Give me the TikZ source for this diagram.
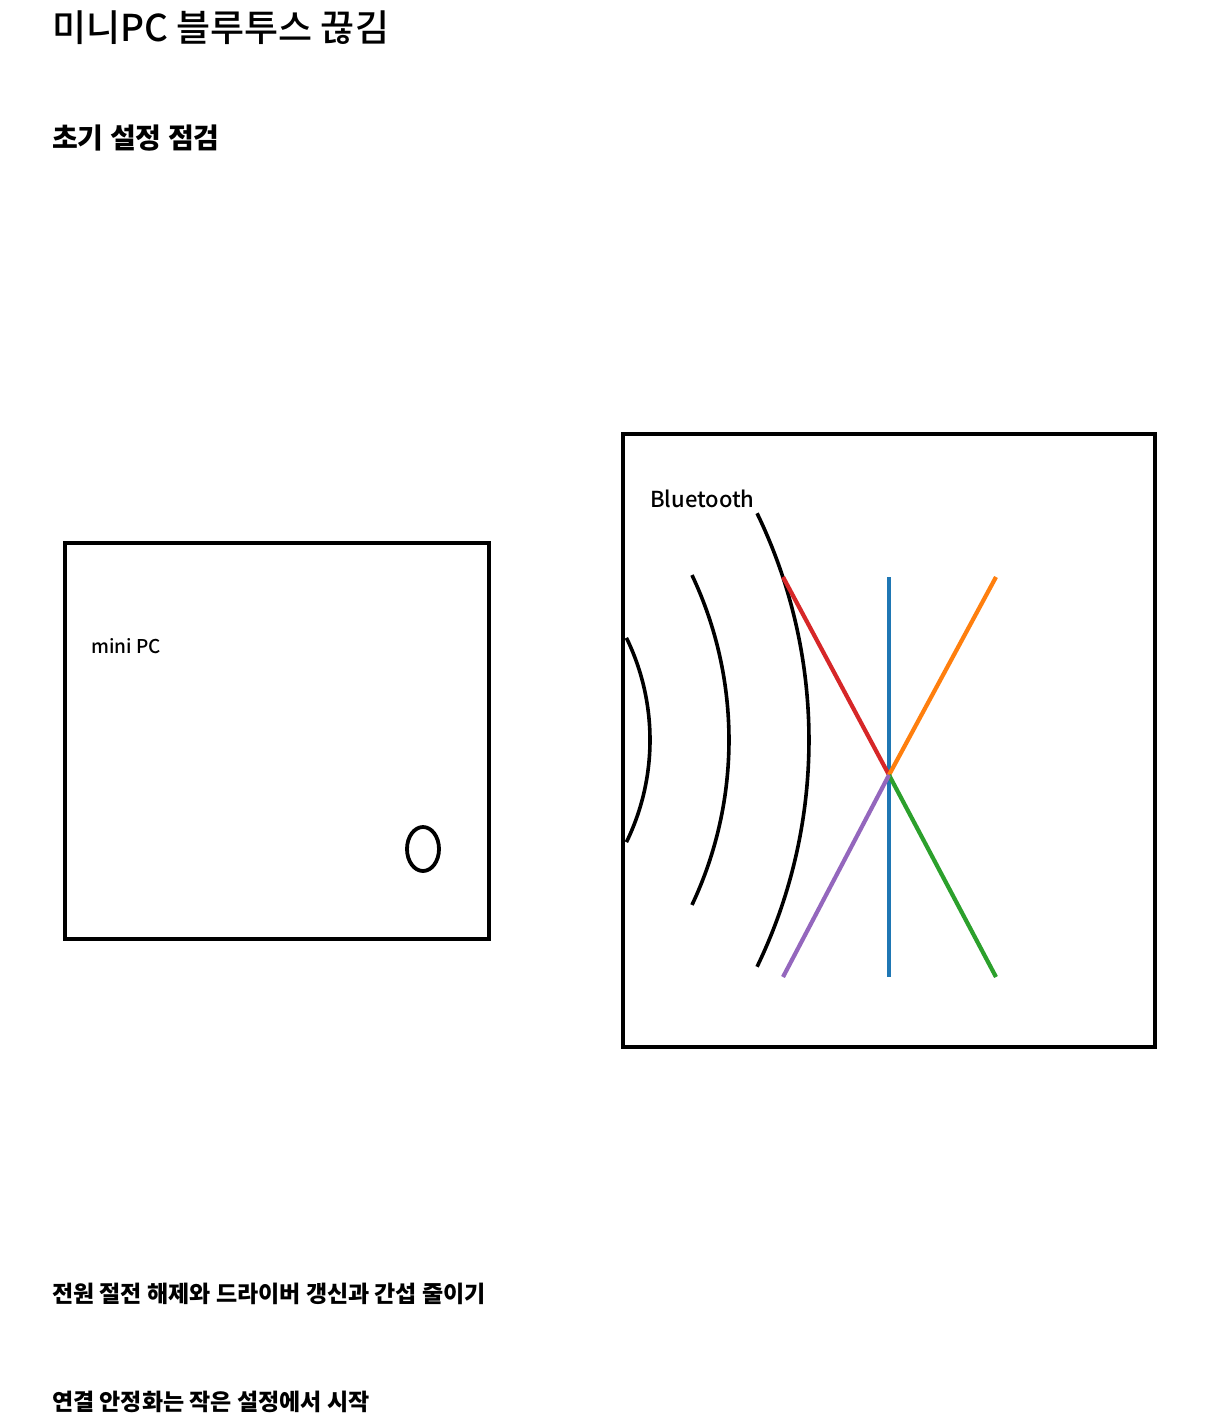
\documentclass[tikz,border=0pt]{standalone}
\usepackage{fontspec}
\setmainfont{Noto Sans CJK KR}
\newfontfamily\medfont{Noto Sans CJK KR Medium}
\usepackage{xcolor}
\definecolor{tabblue}{HTML}{1F77B4}
\definecolor{tabred}{HTML}{D62728}
\definecolor{taborange}{HTML}{FF7F0E}
\definecolor{tabgreen}{HTML}{2CA02C}
\definecolor{tabpurple}{HTML}{9467BD}
\tikzset{
  frame/.style={line width=3.8pt},
  wave/.style={line width=3.6pt},
  ray/.style={line width=4.2pt},
  heading/.style={anchor=base west, inner sep=0pt, font=\bfseries\fontsize{28}{32}\selectfont},
  caption/.style={anchor=base west, inner sep=0pt, font=\bfseries\fontsize{23}{27}\selectfont},
  tag/.style={anchor=base west, inner sep=0pt}
}

\begin{document}
\begin{tikzpicture}[x=1pt,y=-1pt]
        \useasboundingbox (0,0) rectangle (1220,1424);

        % titles
        \node[anchor=base west,inner sep=0pt,font=\medfont\fontsize{37}{42}\selectfont] (title) at (52,41) {미니PC 블루투스 끊김};
        \node[heading] (sub) at (52,148) {초기 설정 점검};

        % mini PC
        \draw[frame] (65,543) rectangle (489,939);
        \node[tag,font=\medfont\fontsize{19}{22}\selectfont] (pclabel) at (91,653) {mini PC};
        \draw[frame] (423,849) ellipse (16 and 22);

        % bluetooth panel
        \draw[frame] (623,434) rectangle (1155,1047);
        \node[tag,font=\medfont\fontsize{22}{26}\selectfont] (btlabel) at (650,507) {Bluetooth};

        % waves
        \draw[wave] (417,740) ++(-26:233) arc[start angle=-26,end angle=26,radius=233];
        \draw[wave] (343,740) ++(-25.3:386) arc[start angle=-25.3,end angle=25.3,radius=386];
        \draw[wave] (288,740) ++(-25.8:521) arc[start angle=-25.8,end angle=25.8,radius=521];

        % rays
        \coordinate (hub) at (889,775);
        \coordinate (top) at (889,577);
        \coordinate (bot) at (889,977);
        \coordinate (tl) at (783,577);
        \coordinate (tr) at (996,577);
        \coordinate (br) at (996,977);
        \coordinate (bl) at (783,977);
        \draw[ray,tabblue] (top) -- (bot);
        \draw[ray,tabred] (tl) -- (hub);
        \draw[ray,taborange] (hub) -- (tr);
        \draw[ray,tabgreen] (hub) -- (br);
        \draw[ray,tabpurple] (bl) -- (hub);

        % notes
        \node[caption] (note1) at (52,1302) {전원 절전 해제와 드라이버 갱신과 간섭 줄이기};
        \node[caption] (note2) at (52,1410) {연결 안정화는 작은 설정에서 시작};

    \end{tikzpicture}
\end{document}
